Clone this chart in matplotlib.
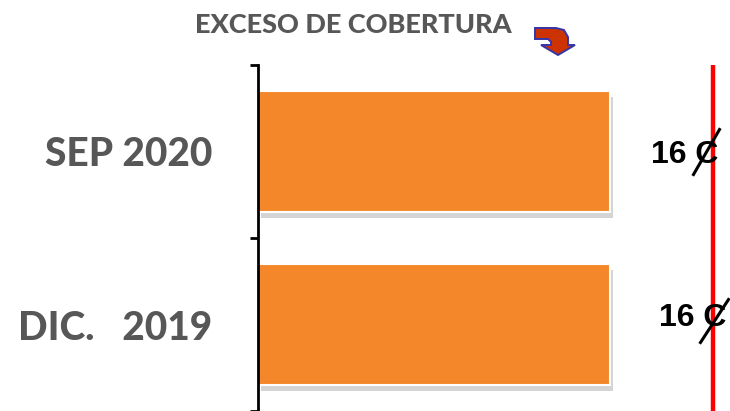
"""Exceso de cobertura: SEP 2020 vs DIC. 2019 (barras horizontales)."""
import matplotlib.pyplot as plt
import matplotlib.patheffects as pe
from matplotlib.lines import Line2D
from matplotlib.patches import Polygon

# datos
categorias = ["DIC.   2019", "SEP 2020"]
valores = [16, 16]
etiquetas = ["16 C", "16 C"]
limite = 20.7          # línea roja de referencia
x_max = 21.45

BAR_COLOR = "#F3872A"
GRIS = "#575757"

fig = plt.figure(figsize=(7.3, 4.11), dpi=100)
ax = fig.add_axes([258 / 730, 0.0, 472 / 730, 346 / 411])

pos = list(range(len(categorias)))
bars = ax.barh(pos, valores, height=0.7, color=BAR_COLOR,
               edgecolor="white", linewidth=1.5, zorder=2)
for b in bars:
    b.set_path_effects([pe.SimplePatchShadow(offset=(2, -4), alpha=0.25,
                                             shadow_rgbFace="#555555"),
                        pe.Normal()])

ax.axvline(limite, color="#FF0000", lw=3.2, zorder=3)

ax.set_xlim(0, x_max)
ax.set_ylim(-0.5, len(categorias) - 0.5)

# etiquetas de categoría (ticks mayores sin marca) y marcas en los bordes
ax.set_yticks(pos)
ax.set_yticklabels(categorias, fontsize=28, fontweight="black",
                   color=GRIS, family="Lato")
ax.tick_params(axis="y", which="major", length=0, pad=33)
ax.set_yticks([p - 0.5 for p in pos] + [pos[-1] + 0.5], minor=True)
ax.tick_params(axis="y", which="minor", length=6, width=2, color="black")
ax.set_xticks([])

for s in ["top", "right", "bottom"]:
    ax.spines[s].set_visible(False)
ax.spines["left"].set_linewidth(2)

# valores junto a la línea roja, con la "C" tachada
fig.canvas.draw()
offsets = [(13, 6, (-13, -18), (15, 25)), (5, -4, (-20, -23), (6, 22))]
for p, txt, (dx, dy, a, b) in zip(pos, etiquetas, offsets):
    x0, y0 = ax.transData.transform((limite, p))
    fig.text((x0 + dx) / 730, (y0 + dy) / 411, txt, ha="right", va="center",
             fontsize=23, fontweight="bold", family="Liberation Sans",
             color="black", zorder=5)
    fig.add_artist(Line2D([x0 + a[0], x0 + b[0]], [y0 + a[1], y0 + b[1]],
                          transform=None, color="black", lw=2.2, zorder=6))

fig.text(353 / 730, 1 - 25 / 411, "EXCESO DE COBERTURA", ha="center",
         va="center", fontsize=19.5, fontweight="black", family="Lato",
         color=GRIS)

# flecha decorativa junto al título
flecha = [(535, 28), (556, 28), (564, 30), (568, 37), (568, 45), (575, 45),
          (558, 55), (541, 45), (551, 45), (551, 42), (548, 39), (535, 39)]
fig.add_artist(Polygon([(x, 411 - y) for x, y in flecha], closed=True,
                       transform=None, facecolor="#CC3300",
                       edgecolor="#3535A8", lw=1.4))

fig.savefig("out.png", dpi=100)
